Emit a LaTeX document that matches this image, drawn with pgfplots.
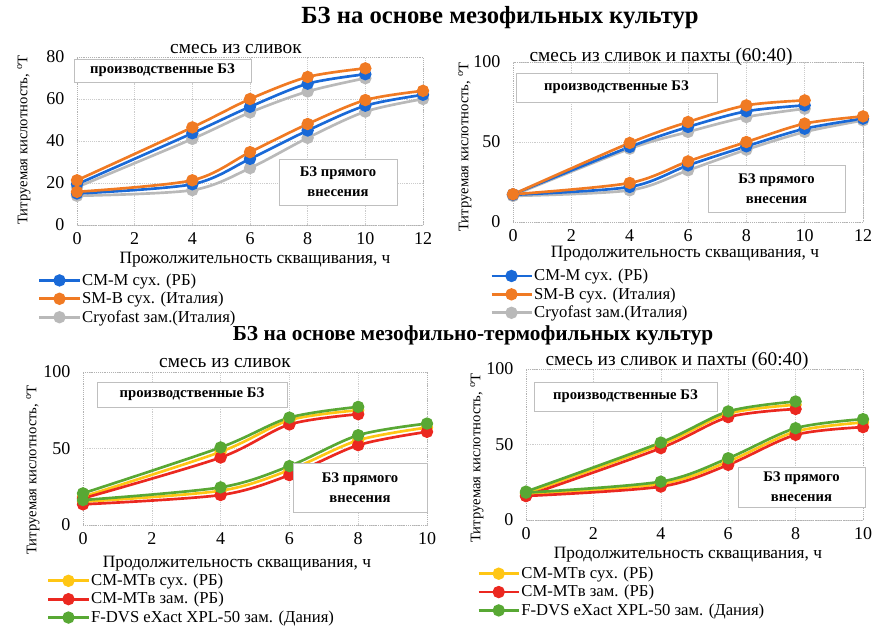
\documentclass[border=0pt]{standalone}
\usepackage{fontspec}
\setmainfont{Liberation Serif}
\usepackage{pgfplots}
\pgfplotsset{compat=1.18}
\definecolor{cblue}{RGB}{25,105,215}
\definecolor{corange}{RGB}{240,122,35}
\definecolor{cgray}{RGB}{185,185,185}
\definecolor{cyellow}{RGB}{255,198,20}
\definecolor{cred}{RGB}{235,40,32}
\definecolor{cgreen}{RGB}{88,168,52}
\pgfplotsset{
  panel/.style={
    scale only axis, clip=false,
    axis line style={black!30, densely dotted},
    xmajorgrids, ymajorgrids,
    grid style={black!20, densely dotted},
    major tick length=0pt,
    tick label style={font=\fontsize{13.5}{13.5}\selectfont},
    xticklabel style={yshift=-4.5pt, inner sep=1pt},
    yticklabel style={xshift=-6pt},
    /pgf/number format/assume math mode=true,
    legend cell align=left,
    legend style={draw=none, fill=none, font=\fontsize{12.5}{13.8}\selectfont, anchor=north west, inner sep=0pt, row sep=1.6pt, nodes={inner sep=1pt}},
    legend image code/.code={\draw[mark repeat=2,mark phase=2,##1] plot coordinates {(0pt,0pt) (15pt,0pt) (30pt,0pt)};},
    every axis plot/.append style={smooth, line width=2pt, mark=*, mark size=3.6pt},
  },
  sb/.style={color=cblue, mark options={fill=cblue, draw=cblue}},
  so/.style={color=corange, mark options={fill=corange, draw=corange}},
  sg/.style={color=cgray, mark options={fill=cgray, draw=cgray}},
  sy/.style={color=cyellow, mark options={fill=cyellow, draw=cyellow}},
  sr/.style={color=cred, mark options={fill=cred, draw=cred}},
  sgr/.style={color=cgreen, mark options={fill=cgreen, draw=cgreen}},
}
\newcommand{\bz}{\fontsize{11}{13}\selectfont\bfseries}
\begin{document}
\begin{tikzpicture}
\path (0,0) rectangle (656.25pt,465pt);
% Panel 1
\begin{axis}[panel, at={(57.75pt,296.25pt)}, anchor=south west, width=259.5pt, height=126pt,
  xmin=0, xmax=12, ymin=0, ymax=80, xtick={0,2,...,12}, ytick={0,20,...,80},
  legend style={at={(-0.113,-0.28)}}]
\addlegendimage{sb}\addlegendentry{CM-M сух. (РБ)}
\addlegendimage{so}\addlegendentry{SM-B сух. (Италия)}
\addlegendimage{sg}\addlegendentry{Cryofast зам.(Италия)}
\addplot[sg, forget plot] coordinates {(0,18)(4,41)(6,53.6)(8,63.6)(10,69.9)};
\addplot[sb, forget plot] coordinates {(0,19.4)(4,43.7)(6,56.3)(8,67.3)(10,71.8)};
\addplot[so, forget plot] coordinates {(0,21.3)(4,46.5)(6,60)(8,70.5)(10,74.6)};
\addplot[sg, forget plot] coordinates {(0,13.9)(4,16.6)(6,27.1)(8,41.5)(10,54)(12,60)};
\addplot[sb, forget plot] coordinates {(0,15)(4,19.4)(6,31.5)(8,45)(10,56.8)(12,62)};
\addplot[so, forget plot] coordinates {(0,15.8)(4,21.3)(6,34.7)(8,48.1)(10,59.5)(12,63.9)};
\end{axis}
% Panel 2
\begin{axis}[panel, at={(384.75pt,298.5pt)}, anchor=south west, width=262.5pt, height=120pt,
  xmin=0, xmax=12, ymin=0, ymax=100, xtick={0,2,...,12}, ytick={0,50,100},
  legend style={at={(-0.066,-0.285)}}]
\addlegendimage{sb}\addlegendentry{CM-M сух. (РБ)}
\addlegendimage{so}\addlegendentry{SM-B сух. (Италия)}
\addlegendimage{sg}\addlegendentry{Cryofast зам.(Италия)}
\addplot[sg, forget plot] coordinates {(0,16.7)(4,45.8)(6,56.3)(8,65.6)(10,70.8)};
\addplot[sb, forget plot] coordinates {(0,17.3)(4,46.9)(6,59.4)(8,69.2)(10,72.9)};
\addplot[so, forget plot] coordinates {(0,17.3)(4,49.4)(6,62.5)(8,72.9)(10,76)};
\addplot[sg, forget plot] coordinates {(0,16.3)(4,19.8)(6,32.3)(8,45.2)(10,56.3)(12,63.5)};
\addplot[sb, forget plot] coordinates {(0,17)(4,21.9)(6,35.4)(8,47.3)(10,58.3)(12,64.6)};
\addplot[so, forget plot] coordinates {(0,17.3)(4,24.4)(6,37.9)(8,50)(10,61.5)(12,66)};
\end{axis}
% Panel 3
\begin{axis}[panel, at={(62.25pt,71.25pt)}, anchor=south west, width=258pt, height=114.75pt,
  xmin=0, xmax=10, ymin=0, ymax=100, xtick={0,2,...,10}, ytick={0,50,100},
  legend style={at={(-0.105,-0.31)}}]
\addlegendimage{sy}\addlegendentry{CM-MTв сух. (РБ)}
\addlegendimage{sr}\addlegendentry{CM-MTв зам. (РБ)}
\addlegendimage{sgr}\addlegendentry{F-DVS eXact XPL-50 зам. (Дания)}
\addplot[sy, forget plot] coordinates {(0,18.5)(4,47.8)(6,68.5)(8,75)};
\addplot[sr, forget plot] coordinates {(0,17.4)(4,44.1)(6,65.7)(8,72.4)};
\addplot[sgr, forget plot] coordinates {(0,20.7)(4,50.7)(6,70.2)(8,77.2)};
\addplot[sy, forget plot] coordinates {(0,15.2)(4,22.4)(6,35.9)(8,55.4)(10,63.7)};
\addplot[sr, forget plot] coordinates {(0,13.5)(4,19.6)(6,32.6)(8,52.2)(10,60.9)};
\addplot[sgr, forget plot] coordinates {(0,16.3)(4,24.6)(6,38.5)(8,58.7)(10,66.3)};
\end{axis}
% Panel 4
\begin{axis}[panel, at={(394.5pt,75pt)}, anchor=south west, width=252.75pt, height=113.25pt,
  xmin=0, xmax=10, ymin=0, ymax=100, xtick={0,2,...,10}, ytick={0,50,100},
  legend style={at={(-0.145,-0.30)}}]
\addlegendimage{sy}\addlegendentry{CM-MTв сух. (РБ)}
\addlegendimage{sr}\addlegendentry{CM-MTв зам. (РБ)}
\addlegendimage{sgr}\addlegendentry{F-DVS eXact XPL-50 зам. (Дания)}
\addplot[sy, forget plot] coordinates {(0,17.7)(4,49.8)(6,70.4)(8,76.3)};
\addplot[sr, forget plot] coordinates {(0,15.9)(4,47.6)(6,68.1)(8,73.5)};
\addplot[sgr, forget plot] coordinates {(0,18.8)(4,51.3)(6,71.9)(8,78.5)};
\addplot[sy, forget plot] coordinates {(0,17.3)(4,23.9)(6,38.7)(8,58.6)(10,64.6)};
\addplot[sr, forget plot] coordinates {(0,15.9)(4,22.1)(6,36.5)(8,56.4)(10,61.5)};
\addplot[sgr, forget plot] coordinates {(0,18.1)(4,25.4)(6,40.9)(8,60.8)(10,66.8)};
\end{axis}
\begin{scope}[x=0.75pt,y=-0.75pt,yshift=465pt]
% main titles
\node[font=\fontsize{18.5}{18.5}\selectfont\bfseries] at (500,18) {БЗ на основе мезофильных культур};
\node[font=\fontsize{16}{16}\selectfont\bfseries, inner sep=1pt] at (473,335) {БЗ на основе мезофильно-термофильных культур};
% panel titles
\node[font=\fontsize{14.5}{14.5}\selectfont] at (236,49) {смесь из сливок};
\node[font=\fontsize{14.5}{14.5}\selectfont] at (661,57) {смесь из сливок и пахты (60:40)};
\node[font=\fontsize{14.5}{14.5}\selectfont] at (225,363) {смесь из сливок};
\node[font=\fontsize{14.5}{14.5}\selectfont] at (677,361) {смесь из сливок и пахты (60:40)};
% x labels
\tikzset{xl/.style={font=\fontsize{13}{13}\selectfont, inner sep=0pt}}
\node[xl] at (255,260) {Прожолжительность скващивания, ч};
\node[xl] at (685,254) {Продолжительность скващивания, ч};
\node[xl] at (237,564) {Продолжительность скващивания, ч};
\node[xl] at (688,555) {Продолжительность скващивания, ч};
% y labels
\node[font=\fontsize{11}{11}\selectfont, rotate=90] at (24,140) {Титруемая кислотность, $^{\mathrm{o}}$Т};
\node[font=\fontsize{11}{11}\selectfont, rotate=90] at (465,147) {Титруемая кислотность, $^{\mathrm{o}}$Т};
\node[font=\fontsize{11}{11}\selectfont, rotate=90] at (33,470) {Титруемая кислотность, $^{\mathrm{o}}$Т};
\node[font=\fontsize{11}{11}\selectfont, rotate=90] at (477,458) {Титруемая кислотность, $^{\mathrm{o}}$Т};
% boxes
\tikzset{bx/.style={draw=black!25, fill=white, inner sep=0pt, align=center, font=\bz}}
\node[bx, minimum width=177*0.75pt, minimum height=23*0.75pt] at (162.5,70.5) {производственные БЗ};
\node[bx, minimum width=118*0.75pt, minimum height=46*0.75pt] at (338,182) {БЗ прямого\\[2pt]внесения};
\node[bx, minimum width=201*0.75pt, minimum height=29*0.75pt] at (616.5,87.5) {производственные БЗ};
\node[bx, minimum width=137*0.75pt, minimum height=47*0.75pt] at (776.5,188.5) {БЗ прямого\\[2pt]внесения};
\node[bx, minimum width=190*0.75pt, minimum height=25*0.75pt] at (192,394.5) {производственные БЗ};
\node[bx, minimum width=134*0.75pt, minimum height=49*0.75pt] at (360,487.5) {БЗ прямого\\[2pt]внесения};
\node[bx, minimum width=183*0.75pt, minimum height=29*0.75pt] at (625.5,396.5) {производственные БЗ};
\node[bx, minimum width=127*0.75pt, minimum height=40*0.75pt] at (801.5,487) {БЗ прямого\\[2pt]внесения};
\end{scope}
\end{tikzpicture}
\end{document}
